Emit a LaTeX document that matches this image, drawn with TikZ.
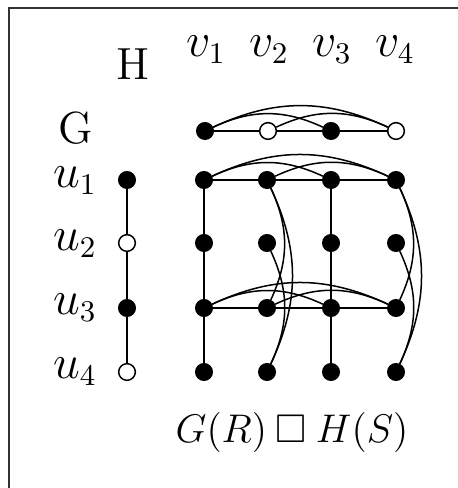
\documentclass[tikz,border=0pt]{standalone}
\usepackage{amssymb}
\begin{document}
\begin{tikzpicture}[x=0.3pt,y=-0.3pt,
  vblack/.style={circle,fill=black,draw=black,inner sep=0pt,minimum size=5pt},
  vwhite/.style={circle,fill=white,draw=black,line width=0.45pt,inner sep=0pt,minimum size=5pt},
  edge/.style={line width=0.45pt},
  arc/.style={line width=0.45pt,bend left=25},
  lbl/.style={inner sep=0pt,font=\fontsize{13.5}{16}\selectfont},
  caplbl/.style={inner sep=0pt,font=\fontsize{12}{14}\selectfont}]
\useasboundingbox (0,0) rectangle (457,488);
% outer frame (open to the right and bottom)
\draw[line width=0.5pt,black!80] (9,495) -- (9,8) -- (465,8);

% headings
\node[lbl] (Hname) at (133,64) {H};
\node[lbl] (Gname) at (76,128) {G};
\foreach \j/\x in {1/206,2/269,3/332,4/395}
  \node[lbl] (vl\j) at (\x,50) {$v_{\j}$};
\foreach \i/\y in {1/181,2/244,3/308,4/372}
  \node[lbl] (ul\i) at (75,\y) {$u_{\i}$};

% graph H
\node[vblack] (h1) at (205,131) {};
\node[vwhite] (h2) at (268,131) {};
\node[vblack] (h3) at (331,131) {};
\node[vwhite] (h4) at (396,131) {};
\draw[edge] (h1) -- (h2) -- (h3) -- (h4);
\draw[arc] (h1) to (h3);
\draw[arc] (h1) to (h4);
\draw[arc] (h2) to (h4);

% graph G
\node[vblack] (g1) at (127,180) {};
\node[vwhite] (g2) at (127,243) {};
\node[vblack] (g3) at (127,308) {};
\node[vwhite] (g4) at (127,372) {};
\draw[edge] (g1) -- (g2) -- (g3) -- (g4);

% product vertices
\foreach \i/\y in {1/180,2/243,3/308,4/372}
  \foreach \j/\x in {1/204,2/267,3/331,4/396}
    \node[vblack] (p\i\j) at (\x,\y) {};

% rows of black u: copies of H
\foreach \i in {1,3}{
  \draw[edge] (p\i1) -- (p\i2) -- (p\i3) -- (p\i4);
  \draw[arc] (p\i1) to (p\i3);
  \draw[arc] (p\i1) to (p\i4);
  \draw[arc] (p\i2) to (p\i4);
}
% columns of black v: copies of G
\foreach \j in {1,3}
  \draw[edge] (p1\j) -- (p2\j) -- (p3\j) -- (p4\j);
% columns of white v: relation edges
\foreach \j in {2,4}{
  \draw[arc] (p1\j) to (p3\j);
  \draw[arc] (p1\j) to (p4\j);
  \draw[arc] (p2\j) to (p4\j);
}

\node[caplbl] (cap) at (292,432) {$G(R)\mathbin{\square} H(S)$};
\end{tikzpicture}
\end{document}
